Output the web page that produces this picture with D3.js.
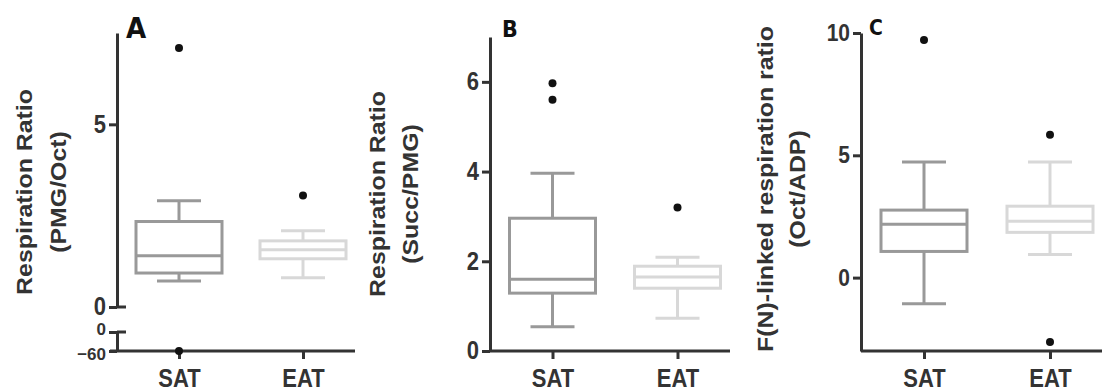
<!DOCTYPE html>
<html>
<head>
<meta charset="utf-8">
<script src="https://cdn.jsdelivr.net/npm/d3@7"></script>
<style>
  body { margin: 0; background: #fff; }
  svg text { font-family: "Liberation Sans", Arial, sans-serif; font-weight: bold; fill: #333; }
  .letter { font-family: "DejaVu Sans Condensed", "DejaVu Sans", sans-serif; font-stretch: condensed; font-weight: bold; fill: #111; }
</style>
</head>
<body>
<div id="chart"></div>
<script>
// groups on the x axis
var categories = ["SAT", "EAT"];

// box stats per group: [whisker low, q1, median, q3, whisker high]
var pmgOctBoxes = [[0.71, 0.93, 1.40, 2.34, 2.91], [0.80, 1.32, 1.57, 1.81, 2.09]];
var pmgOctOutliers = [[7.09], [3.05]];
var pmgOctLowOutliers = [[-60], []];
var pmgOctTicks = [0, 5];
var pmgOctLowTicks = [-60, 0];

var succPmgBoxes = [[0.54, 1.29, 1.60, 2.96, 3.96], [0.73, 1.40, 1.65, 1.89, 2.09]];
var succPmgOutliers = [[5.97, 5.60], [3.20]];
var succPmgTicks = [0, 2, 4, 6];

var octAdpBoxes = [[-1.07, 1.07, 2.18, 2.76, 4.73], [0.95, 1.85, 2.30, 2.92, 4.73]];
var octAdpOutliers = [[9.71], [5.84, -2.63]];
var octAdpTicks = [0, 5, 10];

var groupColors = ["#999999", "#d8d8d8"];

var svgWidth = 1102;
var svgHeight = 392;

var svg = d3.select("#chart")
  .append("svg")
  .attr("width", svgWidth)
  .attr("height", svgHeight);

var boxWidth = 86;
var capWidth = 44;
var axisColor = "#333";
// the source image is stretched a bit vertically, text follows that
var stretch = 1.13;

function styleAxis(g, fontSize) {
  g.select(".domain").attr("stroke", axisColor).attr("stroke-width", 3);
  g.selectAll(".tick line").attr("stroke", axisColor).attr("stroke-width", 3);
  g.selectAll(".tick text")
    .attr("fill", "#333")
    .attr("transform", `scale(1, ${stretch})`)
    .style("font-size", fontSize + "px")
    .style("font-weight", "bold")
    .style("font-family", "'Liberation Sans', Arial, sans-serif");
}

function drawBoxes(g, x, y, boxes, outliers) {
  boxes.forEach(function(b, i) {
    var cx = x(categories[i]);
    var col = groupColors[i];
    var bg = g.append("g")
      .attr("stroke", col)
      .attr("stroke-width", 3)
      .attr("fill", "none");
    // whiskers
    bg.append("line").attr("x1", cx).attr("x2", cx).attr("y1", y(b[0])).attr("y2", y(b[1]));
    bg.append("line").attr("x1", cx).attr("x2", cx).attr("y1", y(b[3])).attr("y2", y(b[4]));
    bg.append("line").attr("x1", cx - capWidth / 2).attr("x2", cx + capWidth / 2).attr("y1", y(b[0])).attr("y2", y(b[0]));
    bg.append("line").attr("x1", cx - capWidth / 2).attr("x2", cx + capWidth / 2).attr("y1", y(b[4])).attr("y2", y(b[4]));
    // box + median
    bg.append("rect")
      .attr("x", cx - boxWidth / 2)
      .attr("y", y(b[3]))
      .attr("width", boxWidth)
      .attr("height", y(b[1]) - y(b[3]));
    bg.append("line").attr("x1", cx - boxWidth / 2).attr("x2", cx + boxWidth / 2).attr("y1", y(b[2])).attr("y2", y(b[2]));
  });
  drawDots(g, x, y, outliers);
}

function drawDots(g, x, y, outliers) {
  outliers.forEach(function(list, i) {
    g.selectAll(null)
      .data(list)
      .enter()
      .append("circle")
      .attr("cx", x(categories[i]))
      .attr("cy", d => y(d))
      .attr("r", 4)
      .attr("fill", "#111");
  });
}

function drawXAxis(g, x, axisX, axisY, xEnd) {
  g.append("line")
    .attr("x1", axisX).attr("x2", xEnd)
    .attr("y1", axisY).attr("y2", axisY)
    .attr("stroke", axisColor).attr("stroke-width", 3);
  var xa = g.append("g")
    .attr("transform", `translate(0, ${axisY})`)
    .call(d3.axisBottom(x).tickSize(8).tickSizeOuter(0));
  styleAxis(xa, 22);
  xa.select(".domain").remove();
  // baseline around y = 387
  xa.selectAll(".tick text").attr("y", 36 / stretch).attr("dy", 0);
}

function yLabel(cx1, cx2, cy, line1, line2) {
  var lg = svg.append("g")
    .attr("transform", `translate(0, ${cy}) rotate(-90) scale(${stretch}, 1)`)
    .attr("text-anchor", "middle")
    .style("font-size", "22px");
  lg.append("text").attr("x", 0).attr("y", cx1).attr("dy", "0.36em").text(line1);
  lg.append("text").attr("x", 0).attr("y", cx2).attr("dy", "0.36em").text(line2);
}

function letter(g, x, y, size, txt) {
  g.append("text").attr("class", "letter")
    .attr("x", x).attr("y", y)
    .style("font-size", size + "px")
    .text(txt);
}

// ---------- Panel A (broken axis) ----------
var aX = d3.scalePoint().domain(categories).range([117, 365]).padding(0.5);
var aY = d3.scaleLinear().domain([0, 7.5]).range([307, 33]);
var aYLow = d3.scaleLinear().domain([-60, 0]).range([351, 332]);
var gA = svg.append("g");

var aAxis = gA.append("g")
  .attr("transform", "translate(117, 0)")
  .call(d3.axisLeft(aY).tickValues(pmgOctTicks).tickFormat(d3.format("d")).tickSize(8).tickSizeOuter(0).tickPadding(3));
styleAxis(aAxis, 22);
var aAxisLow = gA.append("g")
  .attr("transform", "translate(117, 0)")
  .call(d3.axisLeft(aYLow).tickValues(pmgOctLowTicks).tickFormat(d3.format("d")).tickSize(8).tickSizeOuter(0).tickPadding(3));
styleAxis(aAxisLow, 17);
// the two labels sit very close, nudge them apart a little
aAxisLow.selectAll(".tick text")
  .attr("transform", null)
  .attr("dy", d => d === 0 ? "0.15em" : "0.5em");
// break caps
[aY(0), aYLow(0)].forEach(function(yy) {
  gA.append("line").attr("x1", 117).attr("x2", 126).attr("y1", yy).attr("y2", yy)
    .attr("stroke", axisColor).attr("stroke-width", 3);
});
drawXAxis(gA, aX, 110, 351, 355);
drawBoxes(gA, aX, aY, pmgOctBoxes, pmgOctOutliers);
drawDots(gA, aX, aYLow, pmgOctLowOutliers);
letter(gA, 126, 38, 29, "A");
yLabel(24, 58, 192, "Respiration Ratio", "(PMG/Oct)");

// ---------- Panel B ----------
var bX = d3.scalePoint().domain(categories).range([490, 740]).padding(0.5);
var bY = d3.scaleLinear().domain([0, 7]).range([351, 37]);
var gB = svg.append("g");
var bAxis = gB.append("g")
  .attr("transform", "translate(490, 0)")
  .call(d3.axisLeft(bY).tickValues(succPmgTicks).tickFormat(d3.format("d")).tickSize(8).tickSizeOuter(0).tickPadding(3));
styleAxis(bAxis, 22);
drawXAxis(gB, bX, 490, 351, 730);
drawBoxes(gB, bX, bY, succPmgBoxes, succPmgOutliers);
letter(gB, 502, 37, 23, "B");
yLabel(377, 410, 194, "Respiration Ratio", "(Succ/PMG)");

// ---------- Panel C ----------
var cX = d3.scalePoint().domain(categories).range([861, 1113]).padding(0.5);
var cY = d3.scaleLinear().domain([-3, 10]).range([351, 33]);
var gC = svg.append("g");
var cAxis = gC.append("g")
  .attr("transform", "translate(861, 0)")
  .call(d3.axisLeft(cY).tickValues(octAdpTicks).tickSize(8).tickSizeOuter(0).tickPadding(3));
styleAxis(cAxis, 21);
drawXAxis(gC, cX, 861, 351, 1102);
drawBoxes(gC, cX, cY, octAdpBoxes, octAdpOutliers);
letter(gC, 869, 35, 21, "C");
yLabel(765, 797, 189, "F(N)-linked respiration ratio", "(Oct/ADP)");
</script>
</body>
</html>
